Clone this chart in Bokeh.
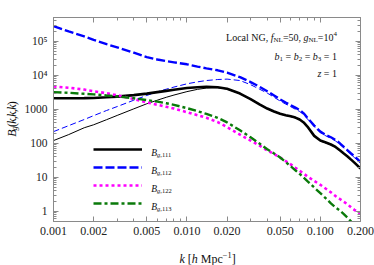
from math import log10, pi
from bokeh.plotting import figure
from bokeh.layouts import column, row
from bokeh.models import (LogAxis, FixedTicker, Label, Legend, LegendItem, Range1d, LogScale)
from bokeh.embed import file_html
from bokeh.resources import INLINE

# ---------------- data ----------------
k = [0.001, 0.0013, 0.0017, 0.002, 0.0025, 0.003, 0.004, 0.005, 0.006, 0.007,
     0.008, 0.01, 0.012, 0.014, 0.017, 0.02, 0.025, 0.03, 0.035, 0.04,
     0.045, 0.05, 0.055, 0.06, 0.065, 0.07, 0.075, 0.08, 0.09, 0.1,
     0.11, 0.12, 0.13, 0.14, 0.15, 0.16, 0.17, 0.18, 0.19, 0.2]

b111_ng = [2100, 2100, 2120, 2150, 2250, 2350, 2600, 2880, 3200, 3480,
           3740, 4200, 4450, 4580, 4450, 4000, 2900, 2000, 1400, 1050,
           860, 740, 670, 620, 570, 500, 410, 310, 165, 120,
           105, 92, 78, 62, 50, 41, 33, 27, 22, 18]
b111_g = [120, 180, 286, 350, 494, 659, 1030, 1450, 1850, 2250,
          2620, 3300, 3850, 4200, 4300, 3930, 2850, 1950, 1370, 1020,
          840, 725, 655, 605, 555, 488, 400, 302, 161, 117,
          102, 90, 76, 60, 49, 40, 32, 26, 21.5, 17.5]
b112_ng = [2.8e5, 1.95e5, 1.4e5, 1.1e5, 8.2e4, 6.6e4, 4.6e4, 3.4e4, 2.9e4, 2.6e4,
           2.4e4, 2.1e4, 1.8e4, 1.6e4, 1.4e4, 1.2e4, 8800, 6300, 4600, 3400,
           2550, 1950, 1580, 1320, 1120, 950, 760, 560, 330, 220,
           175, 150, 125, 100, 78, 62, 50, 41, 34, 28]
b112_g = [220, 330, 500, 650, 920, 1200, 1850, 2550, 3250, 3900,
          4500, 5600, 6400, 7000, 7500, 7700, 7000, 5300, 3900, 3000,
          2250, 1750, 1420, 1190, 1000, 860, 700, 520, 310, 205,
          165, 140, 117, 93, 73, 58, 47, 38, 32, 26]
b122 = [4700, 4300, 3800, 3400, 2950, 2600, 2000, 1600, 1350, 1180,
        1050, 820, 670, 560, 420, 300, 180, 120, 85, 62,
        48, 38, 30, 24, 19, 15.5, 12.8, 10.6, 7.8, 6.0,
        4.6, 3.6, 2.8, 2.3, 1.9, 1.6, 1.3, 1.1, 0.95, 0.85]
b113 = [3200, 3050, 2850, 2750, 2550, 2400, 2100, 1870, 1680, 1500,
        1350, 1080, 880, 730, 560, 410, 240, 150, 98, 67,
        50, 38, 28, 21, 16, 12.5, 9.8, 7.7, 5.0, 3.4,
        2.4, 1.7, 1.3, 1.05, 0.82, 0.64, 0.5, 0.42, 0.36, 0.3]

x_ticks = [0.001, 0.002, 0.005, 0.01, 0.02, 0.05, 0.1, 0.2]
x_tick_labels = ["0.001", "0.002", "0.005", "0.010", "0.020", "0.050", "0.100", "0.200"]
x_minor = [0.003, 0.004, 0.006, 0.007, 0.008, 0.009, 0.03, 0.04, 0.06, 0.07, 0.08, 0.09]
y_ticks = [1, 10, 100, 1000, 10000, 100000]
y_tick_labels = ["1", "10", "100", "1000", "10⁴", "10⁵"]
y_minor = [0.6, 0.7, 0.8, 0.9,
           2, 3, 4, 5, 6, 7, 8, 9, 20, 30, 40, 50, 60, 70, 80, 90,
           200, 300, 400, 500, 600, 700, 800, 900,
           2000, 3000, 4000, 5000, 6000, 7000, 8000, 9000,
           2e4, 3e4, 4e4, 5e4, 6e4, 7e4, 8e4, 9e4, 2e5, 3e5, 4e5, 5e5]

XMIN, XMAX = 0.001, 0.2
YMIN, YMAX = 0.5, 5e5

# ---------------- layout (pixels of the 374x265 page) ----------------
PAGE_W, PAGE_H = 374, 265
YLAB_W = 20                 # strip left of the chart holding the y-axis title
XLAB_H = 22                 # strip below the chart holding the x-axis title
W, H = PAGE_W - YLAB_W, PAGE_H - XLAB_H
FL, FT, FW, FH = 53, 17, 307, 204       # frame in page pixels
FONT = "Liberation Serif"
AX = "#8a8a8a"

p = figure(width=W, height=H, x_axis_type=None, y_axis_type=None,
           x_range=Range1d(XMIN, XMAX), y_range=Range1d(YMIN, YMAX),
           output_backend="svg", toolbar_location=None,
           min_border_left=FL - YLAB_W, min_border_top=FT,
           min_border_right=W - (FL - YLAB_W) - FW, min_border_bottom=H - FT - FH)
p.x_scale = LogScale()
p.y_scale = LogScale()
p.xgrid.visible = False
p.ygrid.visible = False
p.outline_line_color = AX
p.background_fill_color = "white"
p.border_fill_color = "white"

xt = FixedTicker(ticks=x_ticks, minor_ticks=x_minor)
yt = FixedTicker(ticks=y_ticks, minor_ticks=y_minor)


def style_axis(ax):
    ax.axis_line_color = AX
    ax.major_tick_line_color = AX
    ax.minor_tick_line_color = AX
    ax.major_tick_in = 5
    ax.major_tick_out = 0
    ax.minor_tick_in = 3
    ax.minor_tick_out = 0
    ax.major_label_text_font = FONT
    ax.major_label_text_color = "#222222"


bottom = LogAxis(ticker=xt, major_label_overrides=dict(zip(x_ticks, x_tick_labels)))
style_axis(bottom)
bottom.major_label_text_font_size = "12px"
bottom.major_label_standoff = 5
left = LogAxis(ticker=yt, major_label_overrides=dict(zip(y_ticks, y_tick_labels)))
style_axis(left)
left.major_label_text_font_size = "11.5px"
left.major_label_standoff = 6
# mirror axes on top/right carry ticks only (no tick labels)
top = LogAxis(ticker=xt, major_label_overrides={t: "" for t in x_ticks})
style_axis(top)
top.major_label_standoff = 0
right = LogAxis(ticker=yt, major_label_overrides={t: "" for t in y_ticks})
style_axis(right)
right.major_label_standoff = 0
p.add_layout(bottom, "below")
p.add_layout(left, "left")
p.add_layout(top, "above")
p.add_layout(right, "right")

# ---------------- curves ----------------
p.line(k, b111_g, line_color="black", line_width=1)
p.line(k, b112_g, line_color="#0000ff", line_width=1, line_dash="6 3")
r111 = p.line(k, b111_ng, line_color="black", line_width=2.6)
r112 = p.line(k, b112_ng, line_color="#0000ff", line_width=2.4, line_dash="9 3")
r122 = p.line(k, b122, line_color="#ff00ff", line_width=2.6, line_dash="3 3")
r113 = p.line(k, b113, line_color="#0a7a0a", line_width=2.4, line_dash="8 3 3 3")

legend = Legend(items=[LegendItem(label="·", renderers=[r]) for r in (r111, r112, r122, r113)],
                location=(40, 9), glyph_width=49, glyph_height=18, label_height=18,
                spacing=0, padding=0, margin=0, label_standoff=0, label_width=1,
                label_text_font_size="4px", label_text_alpha=0,
                border_line_alpha=0, background_fill_alpha=0)
p.add_layout(legend)

# ---------------- side strips for the axis titles ----------------
ylab = figure(width=YLAB_W, height=H, x_axis_type=None, y_axis_type=None,
              x_range=Range1d(0, YLAB_W), y_range=Range1d(H, 0),
              output_backend="svg", toolbar_location=None, min_border=0,
              min_border_left=0, min_border_right=0, min_border_top=0, min_border_bottom=0)
xlab = figure(width=PAGE_W, height=XLAB_H, x_axis_type=None, y_axis_type=None,
              x_range=Range1d(0, PAGE_W), y_range=Range1d(PAGE_H, H),
              output_backend="svg", toolbar_location=None, min_border=0,
              min_border_left=0, min_border_right=0, min_border_top=0, min_border_bottom=0)
for f in (ylab, xlab):
    f.outline_line_color = None
    f.xgrid.visible = False
    f.ygrid.visible = False
    f.background_fill_color = "white"
    f.border_fill_color = "white"

# ---------------- text (composed runs, Times metrics) ----------------
REG = {' ': 250, '(': 333, ')': 333, ',': 250, '.': 250, '=': 564, '[': 333, ']': 333,
       '−': 564, 'L': 611, 'o': 500, 'c': 444, 'a': 444, 'l': 278, 'N': 722, 'G': 722,
       'M': 889, 'p': 500}
ITA = {'B': 611, 'f': 278, 'g': 500, 'b': 500, 'z': 389, 'k': 444, 'h': 500}


def tw(s, italic):
    tab = ITA if italic else REG
    return sum(500 if ch.isdigit() else tab.get(ch, REG.get(ch, 500)) for ch in s) / 1000.0


def main_xy(X, Y):
    # page pixel -> data coordinates of the main chart
    fx, fy = X - FL, Y - FT
    return (10 ** (log10(XMIN) + fx / FW * (log10(XMAX) - log10(XMIN))),
            10 ** (log10(YMAX) - fy / FH * (log10(YMAX) - log10(YMIN))))


def ylab_xy(X, Y):
    return X, Y


def xlab_xy(X, Y):
    return X, Y


def runs(fig, conv, pieces, x0, y0, vertical=False, align="left"):
    # x0, y0: start of the baseline in page pixels
    total = sum(tw(t, it) * s for t, it, s, sh in pieces)
    pos = -total if align == "right" else 0.0
    for t, it, s, sh in pieces:
        lead = len(t) - len(t.lstrip(" "))
        pos += tw(" " * lead, False) * s          # SVG drops leading blanks
        body = t.strip(" ")
        if body:
            if vertical:
                X, Y = x0 + sh, y0 - pos
            else:
                X, Y = x0 + pos, y0 + sh
            x, y = conv(X, Y)
            fig.add_layout(Label(x=x, y=y, text=body, text_font=FONT,
                                 text_font_style="italic" if it else "normal",
                                 text_font_size=f"{s}px", text_color="#111111",
                                 text_align="left", text_baseline="alphabetic",
                                 angle=pi / 2 if vertical else 0))
        pos += tw(t.lstrip(" "), it) * s


# header text
runs(p, main_xy, [("Local NG, ", False, 10, 0), ("f", True, 10, 0), ("NL", False, 7, 2.5),
                  ("=50, ", False, 10, 0), ("g", True, 10, 0), ("NL", False, 7, 2.5),
                  ("=10", False, 10, 0), ("4", False, 7, -4)], 336.5, 37.3, align="right")
runs(p, main_xy, [("b", True, 10, 0), ("1", False, 7, 2.5), (" = ", False, 10, 0),
                  ("b", True, 10, 0), ("2", False, 7, 2.5), (" = ", False, 10, 0),
                  ("b", True, 10, 0), ("3", False, 7, 2.5), (" = 1", False, 10, 0)],
     336.5, 56, align="right")
runs(p, main_xy, [("z", True, 10, 0), (" = 1", False, 10, 0)], 336.5, 72.7, align="right")

# legend labels
legend_names = ["111", "112", "122", "113"]
for i, name in enumerate(legend_names):
    yb = 148.7 + 18 * i + 3.5
    runs(p, main_xy, [("B", True, 9.5, 0), ("g", True, 6.5, 2), ("," + name, False, 6.5, 2)], 150.7, yb)

# y axis title (reads bottom to top)
runs(ylab, ylab_xy, [("B", True, 12, 0), ("g", True, 8.4, 2.5), ("(", False, 12, 0), ("k", True, 12, 0),
                     (",", False, 12, 0), ("k", True, 12, 0), (",", False, 12, 0), ("k", True, 12, 0),
                     (")", False, 12, 0)], 11.5, 142, vertical=True)

# x axis title
runs(xlab, xlab_xy, [("k", True, 12, 0), (" [", False, 12, 0), ("h", True, 12, 0), (" Mpc", False, 12, 0),
                     ("−1", False, 8.4, -4.5), ("]", False, 12, 0)], 179, 258.5)

page = column(row(ylab, p, spacing=0), xlab, spacing=0)
open("out.html", "w").write(file_html(page, INLINE))
